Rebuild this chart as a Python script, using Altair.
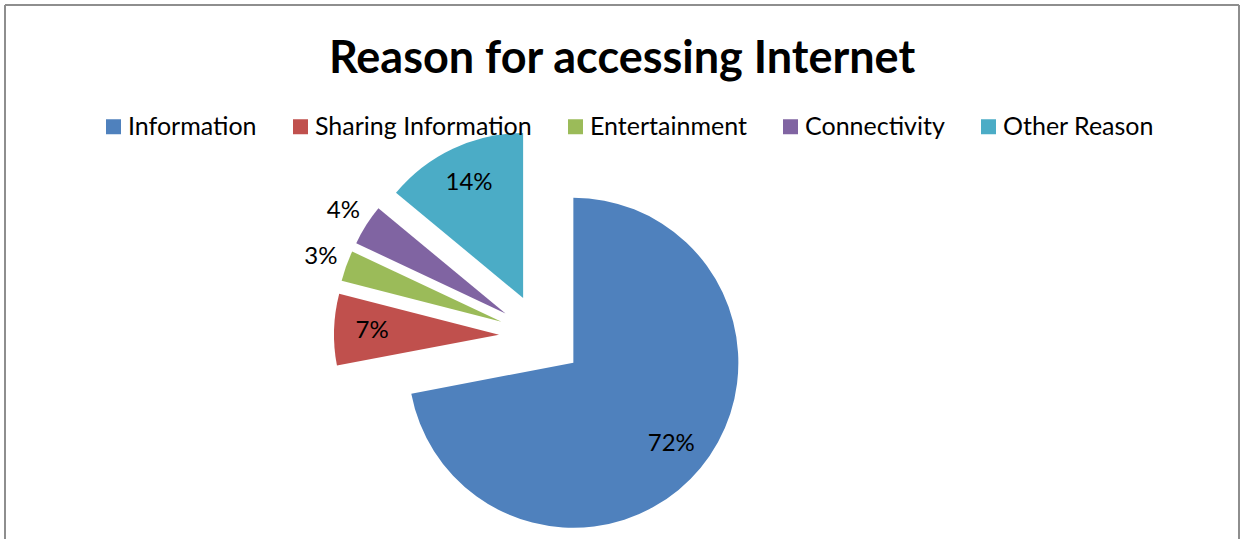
import math
import altair as alt
import pandas as pd

TITLE = "Reason for accessing Internet"
categories = ["Information", "Sharing Information", "Entertainment", "Connectivity", "Other Reason"]
values = [72, 7, 3, 4, 14]
colors = ["#4F81BD", "#C0504D", "#9BBB59", "#8064A2", "#4BACC6"]

FONT = "Lato"
W, H = 1234, 534
CX, CY = 536, 331
R = 165
EXPLODE = 42

df = pd.DataFrame({"category": categories, "value": values, "order": list(range(len(values)))})

base = alt.Chart(df).transform_joinaggregate(
    total="sum(value)"
).transform_window(
    cum="sum(value)", sort=[alt.SortField("order")], frame=[None, 0]
).transform_calculate(
    startf="(datum.cum - datum.value) / datum.total",
    endf="datum.cum / datum.total",
    mid="(datum.cum - datum.value / 2) / datum.total * 2 * PI",
    pct="format(datum.value / datum.total, '.0%')",
).transform_calculate(
    ax=f"{CX} + {EXPLODE} * sin(datum.mid)",
    ay=f"{CY} - {EXPLODE} * cos(datum.mid)",
    lr=f"datum.value / datum.total < 0.05 ? {R + 27} : {R * 0.77}",
).transform_calculate(
    lx="datum.ax + datum.lr * sin(datum.mid)",
    ly="datum.ay - datum.lr * cos(datum.mid)",
)

theta_scale = alt.Scale(domain=[0, 1], range=[0, 2 * math.pi])

arcs = base.mark_arc(outerRadius=R, stroke=None).encode(
    theta=alt.Theta("startf:Q", scale=theta_scale, stack=None),
    theta2="endf:Q",
    x=alt.X("ax:Q", scale=None),
    y=alt.Y("ay:Q", scale=None),
    color=alt.Color(
        "category:N",
        scale=alt.Scale(domain=categories, range=colors),
        sort=categories,
        legend=alt.Legend(
            title=None,
            orient="none",
            legendX=96,
            legendY=109,
            direction="horizontal",
            symbolType="square",
            symbolSize=225,
            symbolStrokeWidth=0,
            labelFontSize=25,
            labelFont=FONT,
            labelColor="#000000",
            labelOffset=2,
            labelLimit=500,
            columnPadding=31,
            padding=0,
        ),
    ),
)

labels = base.mark_text(font=FONT, fontSize=24, color="#000000", align="center", baseline="middle").encode(
    x=alt.X("lx:Q", scale=None),
    y=alt.Y("ly:Q", scale=None),
    text="pct:N",
)

one = pd.DataFrame({"a": [0]})
border_color = "#8e8e8e"
left = alt.Chart(one).mark_rule(color=border_color, strokeWidth=2).encode(
    x=alt.value(0), y=alt.value(0), y2=alt.value(H))
top = alt.Chart(one).mark_rule(color=border_color, strokeWidth=2).encode(
    x=alt.value(0), x2=alt.value(W), y=alt.value(0))
right = alt.Chart(one).mark_rule(color=border_color, strokeWidth=2).encode(
    x=alt.value(W), y=alt.value(0), y2=alt.value(H))

title = alt.Chart(one).mark_text(
    font=FONT, fontSize=45, fontWeight="bold", color="#000000",
    align="center", baseline="alphabetic",
).encode(x=alt.value(W / 2), y=alt.value(68), text=alt.value(TITLE))

chart = alt.layer(left, top, right, title, arcs, labels).properties(
    width=W,
    height=H,
    padding={"left": 5, "top": 5, "right": 1, "bottom": 0},
    autosize=alt.AutoSizeParams(type="none"),
).configure_view(stroke=None).configure(background="#ffffff")

chart.save("out.html", embed_options={"renderer": "svg", "actions": False})
